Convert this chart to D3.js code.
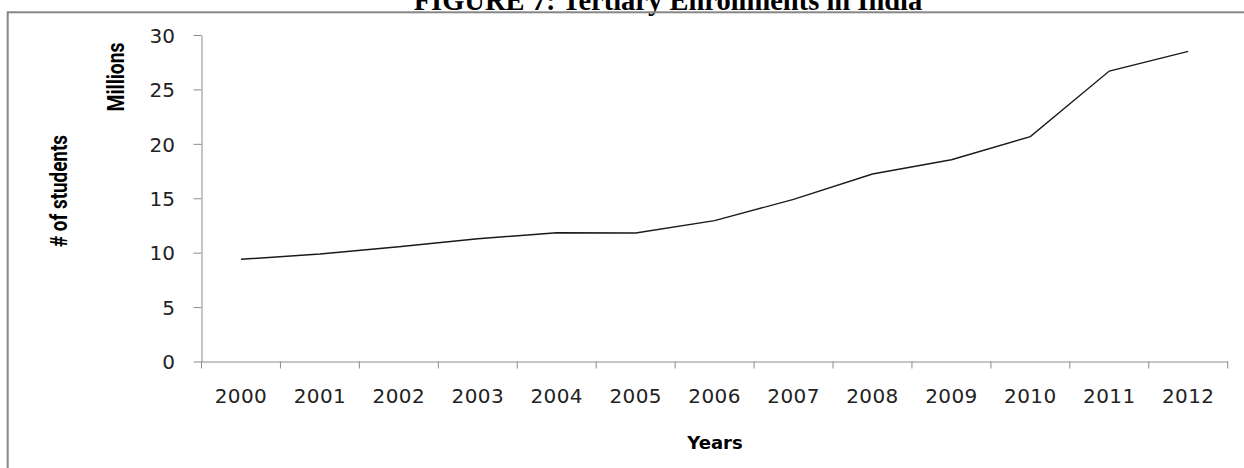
<!DOCTYPE html>
<html>
<head>
<meta charset="utf-8">
<script src="https://cdn.jsdelivr.net/npm/d3@7"></script>
<style>
  html, body { margin: 0; padding: 0; background: #fff; }
  svg { display: block; }
</style>
</head>
<body>
<svg id="chart" width="1244" height="468"></svg>
<script>
const title = "FIGURE 7: Tertiary Enrollments in India";
const years = ["2000","2001","2002","2003","2004","2005","2006","2007","2008","2009","2010","2011","2012"];
const students = [9.39, 9.88, 10.55, 11.28, 11.83, 11.81, 12.94, 14.90, 17.23, 18.54, 20.66, 26.69, 28.5];
const yTicks = [0, 5, 10, 15, 20, 25, 30];
const yLabel = "# of students";
const unitLabel = "Millions";
const xLabel = "Years";

(function () {
const svg = d3.select("#chart");
const W = 1244, H = 468;
const plotLeft = 201.5, plotRight = 1227.7, plotTop = 35, plotBottom = 361.5;

const x = d3.scaleBand().domain(years).range([plotLeft, plotRight]).padding(0);
const y = d3.scaleLinear().domain([0, 30]).range([plotBottom, plotTop]);

const axisColor = "#8c8c8c";
const tickFont = "'DejaVu Sans', Verdana, sans-serif";
const labelFont = "Roboto, 'DejaVu Sans', sans-serif";

// Title (partially cut off at top, as in the reference)
svg.append("text")
  .attr("x", 668).attr("y", 9.5)
  .attr("text-anchor", "middle")
  .attr("font-family", "'Liberation Serif', 'Times New Roman', serif")
  .attr("font-weight", "bold")
  .attr("font-size", 28.5)
  .attr("fill", "#000")
  .text(title);

// Frame
svg.append("rect")
  .attr("x", 7.7).attr("y", 12.3)
  .attr("width", W + 20).attr("height", H + 20)
  .attr("fill", "none")
  .attr("stroke", "#878787")
  .attr("stroke-width", 2);

// Y axis
const yAxis = svg.append("g")
  .attr("transform", `translate(${plotLeft},0)`)
  .call(d3.axisLeft(y).tickValues(yTicks).tickSize(8).tickSizeOuter(0).tickFormat(d3.format("d")));
yAxis.select(".domain").attr("stroke", axisColor);
yAxis.selectAll(".tick line").attr("stroke", axisColor);
yAxis.selectAll(".tick text")
  .attr("x", -26.5).attr("dy", "0.36em")
  .attr("font-family", tickFont).attr("font-size", 20).attr("fill", "#222");

// X axis (labels centered in bands, ticks at band boundaries)
const xAxis = svg.append("g")
  .attr("transform", `translate(0,${plotBottom})`)
  .call(d3.axisBottom(x).tickSize(0).tickSizeOuter(0));
xAxis.select(".domain").attr("stroke", axisColor);
xAxis.selectAll(".tick text")
  .attr("y", 41.2).attr("dy", 0)
  .attr("font-family", tickFont).attr("font-size", 20).attr("fill", "#222")
  .attr("letter-spacing", 0.4);
const boundaries = years.map(d => x(d)).concat([x.range()[1]]);
xAxis.selectAll("line.bt").data(boundaries).enter().append("line")
  .attr("class", "bt")
  .attr("x1", d => d).attr("x2", d => d)
  .attr("y1", 0).attr("y2", 7)
  .attr("stroke", axisColor);

// Line
const line = d3.line()
  .x((d, i) => x(years[i]) + x.bandwidth() / 2)
  .y(d => y(d));
svg.append("path")
  .datum(students)
  .attr("d", line)
  .attr("fill", "none")
  .attr("stroke", "#1a1a1a")
  .attr("stroke-width", 1.4);

// Axis titles
svg.append("text")
  .attr("transform", "translate(124,77) scale(1.25,1) rotate(-90)")
  .attr("text-anchor", "middle")
  .attr("font-family", labelFont).attr("font-weight", "bold")
  .attr("font-size", 19.5).attr("fill", "#000")
  .attr("textLength", 69).attr("lengthAdjust", "spacingAndGlyphs")
  .text(unitLabel);

svg.append("text")
  .attr("transform", "translate(66.5,191) scale(1.25,1) rotate(-90)")
  .attr("text-anchor", "middle")
  .attr("font-family", labelFont).attr("font-weight", "bold")
  .attr("font-size", 19.5).attr("fill", "#000")
  .attr("textLength", 112).attr("lengthAdjust", "spacingAndGlyphs")
  .text(yLabel);

svg.append("text")
  .attr("x", 715).attr("y", 449)
  .attr("text-anchor", "middle")
  .attr("font-family", tickFont).attr("font-weight", "bold")
  .attr("font-size", 18).attr("fill", "#000")
  .text(xLabel);
})();
</script>
</body>
</html>
